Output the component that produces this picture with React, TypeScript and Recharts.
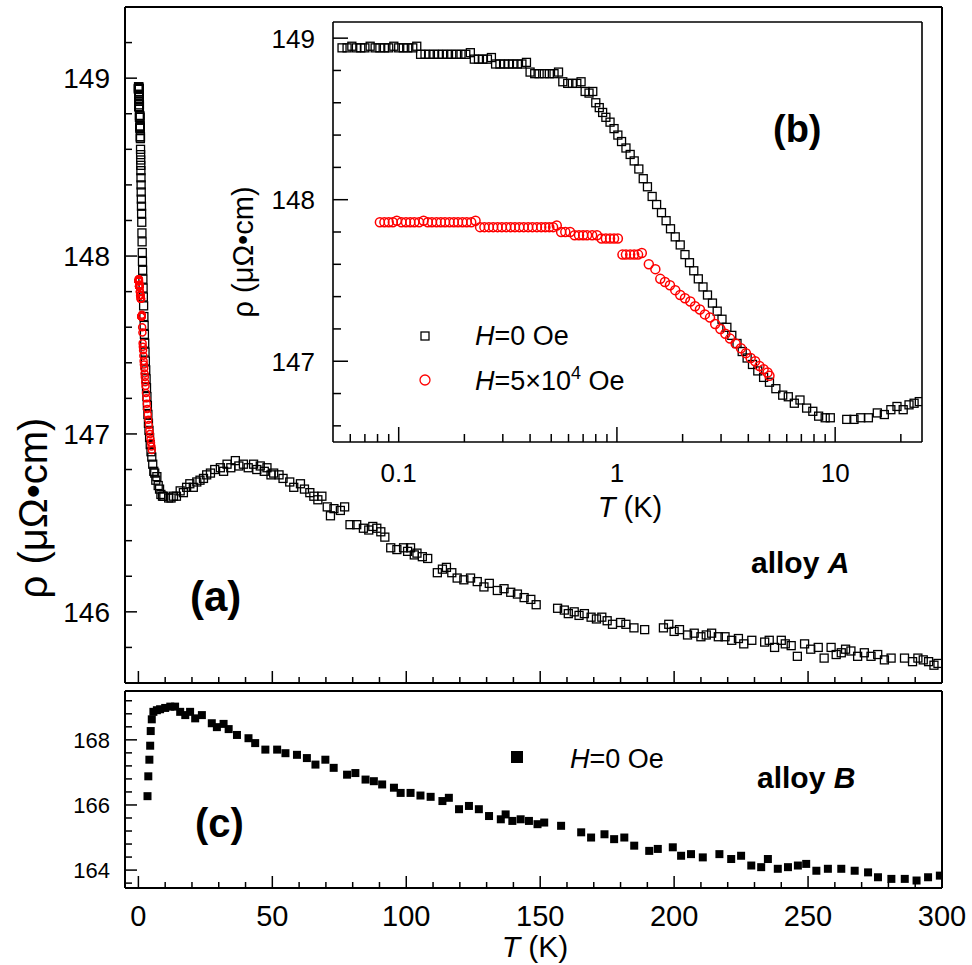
import { Scatter, ScatterChart, XAxis, YAxis } from "recharts"

const FONT = '"Liberation Sans", Arial, Helvetica, sans-serif'

// alloy A, H = 0 Oe, T (K) vs rho (µΩ·cm), part that is also in the inset
const h0LowT: [number, number][] = [
  [0.055, 148.94], [0.058, 148.94], [0.061, 148.95], [0.064, 148.94], [0.067, 148.94], [0.07, 148.94],
  [0.074, 148.95], [0.078, 148.94], [0.082, 148.94], [0.086, 148.94], [0.09, 148.94], [0.095, 148.95],
  [0.1, 148.94], [0.105, 148.94], [0.11, 148.94], [0.116, 148.94], [0.121, 148.95],
  [0.126, 148.9], [0.132, 148.9], [0.138, 148.9], [0.145, 148.9], [0.152, 148.9], [0.159, 148.9],
  [0.167, 148.9], [0.175, 148.9], [0.184, 148.9], [0.193, 148.9], [0.203, 148.9], [0.213, 148.91],
  [0.222, 148.87], [0.232, 148.87], [0.243, 148.87], [0.255, 148.87], [0.266, 148.88],
  [0.278, 148.84], [0.291, 148.84], [0.305, 148.84], [0.319, 148.84], [0.334, 148.84], [0.35, 148.84],
  [0.367, 148.84], [0.385, 148.85],
  [0.4, 148.79], [0.42, 148.78], [0.44, 148.78], [0.465, 148.78], [0.49, 148.78], [0.515, 148.78], [0.54, 148.79],
  [0.565, 148.73], [0.595, 148.72], [0.625, 148.72], [0.655, 148.72], [0.685, 148.73],
  [0.715, 148.67], [0.745, 148.66], [0.775, 148.67],
  [0.8, 148.6], [0.83, 148.57], [0.86, 148.54], [0.89, 148.51], [0.93, 148.48], [0.97, 148.44],
  [1.01, 148.4], [1.05, 148.36], [1.1, 148.32], [1.15, 148.28], [1.2, 148.24], [1.26, 148.19],
  [1.32, 148.13], [1.38, 148.08], [1.45, 148.02], [1.52, 147.97], [1.6, 147.92], [1.68, 147.87],
  [1.76, 147.82], [1.85, 147.77], [1.95, 147.72], [2.05, 147.66], [2.15, 147.61], [2.25, 147.56],
  [2.36, 147.51], [2.48, 147.46], [2.6, 147.41], [2.74, 147.36], [2.88, 147.31], [3.03, 147.26],
  [3.19, 147.21], [3.36, 147.16], [3.55, 147.11], [3.75, 147.06], [3.95, 147.02], [4.18, 146.98],
  [4.42, 146.94], [4.7, 146.9], [5.0, 146.87], [5.35, 146.83], [5.75, 146.79], [6.1, 146.78],
  [6.5, 146.74], [6.9, 146.76], [7.4, 146.71], [7.9, 146.69], [8.4, 146.66], [9.0, 146.65],
  [9.5, 146.65], [11.3, 146.64], [12.2, 146.64], [13.1, 146.65], [14.2, 146.65], [15.6, 146.68],
  [16.8, 146.67], [18.0, 146.7], [19.2, 146.72], [20.5, 146.7], [21.8, 146.73], [23.0, 146.74],
  [24.3, 146.75],
]

// alloy A, H = 0 Oe, above the inset range
const h0HighT: [number, number][] = [
  [25.5, 146.77], [26.9, 146.78], [28.5, 146.8], [30.6, 146.81], [31.8, 146.79], [33.1, 146.83],
  [34.5, 146.81], [36.2, 146.85], [37.5, 146.82], [39.2, 146.83], [41.0, 146.81], [43.0, 146.83],
  [44.2, 146.8], [45.5, 146.82], [47.0, 146.79], [48.0, 146.81], [49.5, 146.77], [50.5, 146.78],
  [52.5, 146.77], [54.0, 146.75], [56.5, 146.73], [58.0, 146.7], [60.5, 146.72], [62.0, 146.69],
  [64.0, 146.67], [65.5, 146.65], [67.0, 146.63], [68.5, 146.65], [70.5, 146.59], [71.7, 146.54],
  [73.0, 146.58], [75.4, 146.57], [77.0, 146.59], [79.0, 146.49], [81.5, 146.49], [84.0, 146.47],
  [86.0, 146.46], [87.5, 146.48], [89.0, 146.47], [90.5, 146.45], [92.0, 146.42], [94.2, 146.36],
  [96.5, 146.35], [99.0, 146.36], [100.5, 146.34], [101.6, 146.36], [103.0, 146.32], [104.0, 146.33],
  [106.0, 146.31], [108.0, 146.3], [111.6, 146.22], [113.5, 146.24], [115.0, 146.25], [117.0, 146.22],
  [119.0, 146.19], [121.5, 146.18], [124.0, 146.19], [126.5, 146.17], [129.0, 146.14], [131.0, 146.16],
  [134.0, 146.12], [136.5, 146.13], [139.0, 146.11], [141.5, 146.1], [144.0, 146.08], [146.5, 146.07],
  [148.5, 146.04], [156.5, 146.02], [159.0, 146.01], [160.5, 145.99], [162.7, 146.0], [164.5, 145.98],
  [166.5, 145.99], [169.0, 145.97], [171.0, 145.96], [173.0, 145.97], [175.0, 145.95], [177.0, 145.93],
  [180.0, 145.94], [182.0, 145.93], [185.0, 145.91], [189.0, 145.9], [196.0, 145.91], [198.0, 145.93],
  [200.0, 145.89], [202.0, 145.9], [205.0, 145.87], [207.5, 145.88], [210.0, 145.86], [212.0, 145.87],
  [214.0, 145.88], [216.5, 145.86], [219.0, 145.86], [221.5, 145.84], [224.0, 145.85], [226.0, 145.82],
  [229.0, 145.84], [233.8, 145.83], [235.5, 145.84], [237.5, 145.8], [240.0, 145.84], [241.5, 145.82],
  [243.7, 145.81], [246.0, 145.75], [248.7, 145.82], [251.0, 145.79], [253.8, 145.8], [256.0, 145.74],
  [258.6, 145.8], [260.5, 145.76], [262.4, 145.77], [264.0, 145.79], [266.0, 145.78], [268.5, 145.75],
  [271.0, 145.77], [273.5, 145.75], [276.0, 145.76], [278.5, 145.73], [281.0, 145.74], [286.0, 145.74],
  [289.0, 145.72], [291.0, 145.74], [293.0, 145.73], [295.0, 145.72], [297.0, 145.7], [298.5, 145.71],
]

// alloy A, H = 5x10^4 Oe
const h5: [number, number][] = [
  [0.082, 147.86], [0.086, 147.86], [0.09, 147.86], [0.094, 147.86], [0.098, 147.87], [0.103, 147.86],
  [0.108, 147.86], [0.113, 147.86], [0.118, 147.86], [0.124, 147.86], [0.13, 147.87], [0.136, 147.86],
  [0.142, 147.86], [0.149, 147.86], [0.156, 147.86], [0.163, 147.86], [0.171, 147.86], [0.179, 147.86],
  [0.187, 147.86], [0.196, 147.86], [0.205, 147.86], [0.215, 147.86], [0.225, 147.87],
  [0.236, 147.83], [0.247, 147.83], [0.259, 147.83], [0.271, 147.83], [0.284, 147.83], [0.297, 147.83],
  [0.311, 147.83], [0.326, 147.83], [0.341, 147.83], [0.357, 147.83], [0.374, 147.83], [0.392, 147.83],
  [0.41, 147.83], [0.43, 147.83], [0.45, 147.83], [0.47, 147.83], [0.49, 147.83], [0.51, 147.83], [0.53, 147.84],
  [0.555, 147.8], [0.58, 147.8], [0.61, 147.8], [0.64, 147.78], [0.67, 147.78], [0.7, 147.78],
  [0.73, 147.78], [0.77, 147.78], [0.81, 147.78],
  [0.85, 147.76], [0.89, 147.76], [0.93, 147.76], [0.97, 147.76], [1.01, 147.76],
  [1.06, 147.66], [1.1, 147.66], [1.15, 147.66], [1.2, 147.66], [1.25, 147.66], [1.3, 147.67],
  [1.4, 147.6], [1.5, 147.57], [1.58, 147.51], [1.66, 147.49], [1.75, 147.47], [1.85, 147.44],
  [1.95, 147.41], [2.05, 147.39], [2.17, 147.37], [2.28, 147.34], [2.4, 147.32], [2.53, 147.29],
  [2.67, 147.27], [2.82, 147.23], [2.98, 147.2], [3.14, 147.17], [3.3, 147.14], [3.5, 147.11],
  [3.7, 147.08], [3.9, 147.05], [4.1, 147.02], [4.3, 147.0], [4.5, 146.97], [4.7, 146.95],
  [4.9, 146.93], [5.0, 146.91],
]

// alloy B, H = 0 Oe
const alloyB: [number, number][] = [
  [3.4, 166.27], [3.7, 166.88], [4.1, 167.39], [4.4, 167.82], [4.6, 168.27], [5.0, 168.63],
  [5.6, 168.86], [6.9, 168.91], [8.1, 168.94], [10.0, 168.98], [11.9, 169.02], [13.7, 169.02],
  [15.6, 168.86], [17.5, 168.76], [19.3, 168.86], [21.2, 168.66], [23.7, 168.76], [27.4, 168.51],
  [29.3, 168.39], [31.8, 168.49], [33.7, 168.33], [36.8, 168.15], [41.1, 168.05], [43.6, 167.9],
  [47.4, 167.7], [51.8, 167.7], [54.9, 167.59], [59.2, 167.54], [62.9, 167.44], [66.1, 167.24],
  [69.8, 167.39], [72.9, 167.14], [77.9, 166.93], [81.0, 166.98], [84.8, 166.78], [87.9, 166.73],
  [91.0, 166.63], [95.4, 166.53], [97.9, 166.37], [101.6, 166.37], [105.3, 166.29], [109.1, 166.25],
  [113.5, 166.12], [115.9, 166.22], [119.7, 165.87], [123.4, 165.97], [127.1, 165.87], [130.9, 165.66],
  [135.3, 165.56], [137.1, 165.71], [139.6, 165.51], [142.7, 165.56], [145.8, 165.51], [149.0, 165.41],
  [151.5, 165.46], [157.8, 165.36], [165.3, 165.16], [169.0, 165.0], [174.0, 165.1], [177.6, 164.95],
  [181.4, 165.0], [185.1, 164.75], [190.7, 164.59], [193.9, 164.65], [199.5, 164.7], [202.6, 164.44],
  [206.3, 164.49], [210.7, 164.39], [216.9, 164.49], [221.3, 164.34], [225.0, 164.44], [228.8, 164.14],
  [232.5, 164.09], [235.0, 164.34], [238.7, 164.04], [242.5, 164.09], [246.2, 164.14], [249.3, 164.19],
  [253.1, 163.98], [257.4, 164.04], [262.4, 164.04], [267.4, 163.98], [272.4, 163.93], [276.1, 163.78],
  [281.1, 163.73], [286.1, 163.73], [290.5, 163.68], [294.8, 163.78], [299.2, 163.83],
]

// ticks
const tTicksLin = [
  0, 10, 20, 30, 40, 50, 60, 70, 80, 90, 100, 110, 120, 130, 140, 150, 160, 170, 180, 190, 200,
  210, 220, 230, 240, 250, 260, 270, 280, 290, 300,
]
const tLabelsLin = ["0", "50", "100", "150", "200", "250", "300"]
const rhoTicksA = [
  145.8, 146, 146.2, 146.4, 146.6, 146.8, 147, 147.2, 147.4, 147.6, 147.8, 148, 148.2, 148.4,
  148.6, 148.8, 149, 149.2,
]
const rhoLabelsA = ["146", "147", "148", "149"]
const tTicksLog = [
  0.06, 0.07, 0.08, 0.09, 0.1, 0.2, 0.3, 0.4, 0.5, 0.6, 0.7, 0.8, 0.9, 1, 2, 3, 4, 5, 6, 7, 8, 9, 10, 20,
]
const tLabelsLog = ["0.1", "1", "10"]
const rhoTicksB = [146.6, 146.8, 147, 147.2, 147.4, 147.6, 147.8, 148, 148.2, 148.4, 148.6, 148.8, 149]
const rhoLabelsB = ["147", "148", "149"]
const rhoTicksC = [
  163.6, 164, 164.4, 164.8, 165.2, 165.6, 166, 166.4, 166.8, 167.2, 167.6, 168, 168.4, 168.8, 169.2,
]
const rhoLabelsC = ["164", "166", "168"]

const toPoints = (rows: [number, number][]) => rows.map(([t, rho]) => ({ t, rho }))
const aH0 = toPoints([...h0LowT, ...h0HighT])
const insetH0 = toPoints(h0LowT)
const aH5 = toPoints(h5)
const bData = toPoints(alloyB)

interface TickOpts {
  side: "bottom" | "top" | "left"
  labels: string[]
  major: number
  minor: number
  show?: boolean
  fontSize?: number
  gap?: number
  width?: number
}

// inward tick marks; labels only on the major ticks
function makeTick(o: TickOpts) {
  return function AxisTick(props: any) {
    const { x = 0, y = 0, payload } = props
    const text = String(+Number(payload?.value).toFixed(3))
    const isMajor = o.labels.includes(text)
    const len = isMajor ? o.major : o.minor
    const sw = o.width ?? 1.5
    if (o.side === "left") {
      return (
        <g>
          <line x1={x} x2={x + len} y1={y} y2={y} stroke="#000" strokeWidth={sw} />
          {o.show && isMajor ? (
            <text x={x - (o.gap ?? 0)} y={y} dy="0.36em" textAnchor="end" fontSize={o.fontSize} fontFamily={FONT} fill="#000">
              {text}
            </text>
          ) : null}
        </g>
      )
    }
    if (o.side === "top") {
      return <line x1={x} x2={x} y1={y} y2={y + len} stroke="#000" strokeWidth={sw} />
    }
    return (
      <g>
        <line x1={x} x2={x} y1={y} y2={y - len} stroke="#000" strokeWidth={sw} />
        {o.show && isMajor ? (
          <text x={x} y={y + (o.gap ?? 0)} textAnchor="middle" fontSize={o.fontSize} fontFamily={FONT} fill="#000">
            {text}
          </text>
        ) : null}
      </g>
    )
  }
}

const openSquare = (size: number) => (p: any) => (
  <rect x={p.cx - size / 2} y={p.cy - size / 2} width={size} height={size} fill="none" stroke="#000" strokeWidth={1.3} />
)
const filledSquare = (size: number) => (p: any) => (
  <rect x={p.cx - size / 2} y={p.cy - size / 2} width={size} height={size} fill="#000" />
)
const openCircle = (r: number) => (p: any) => (
  <circle cx={p.cx} cy={p.cy} r={r} fill="none" stroke="#ff0000" strokeWidth={1.5} />
)

const frame = { stroke: "#000", strokeWidth: 2 }
const thinFrame = { stroke: "#000", strokeWidth: 1.6 }

export default function App() {
  return (
    <div style={{ position: "absolute", left: 0, top: 0, width: 972, height: 965, background: "#fff", fontFamily: FONT }}>
      {/* (a) alloy A, linear T */}
      <div style={{ position: "absolute", left: 0, top: 0 }}>
        <ScatterChart width={972} height={690} margin={{ top: 6, right: 0, bottom: 0, left: 0 }}>
          <XAxis
            dataKey="t"
            type="number"
            domain={[-5, 300]}
            ticks={tTicksLin}
            interval={0}
            allowDataOverflow
            height={7}
            tickSize={0}
            tickMargin={0}
            tickLine={false}
            axisLine={frame}
            tick={makeTick({ side: "bottom", labels: tLabelsLin, major: 12, minor: 6 })}
          />
          <XAxis xAxisId="top" orientation="top" type="number" domain={[-5, 300]} ticks={[0, 300]} height={1} tick={false} tickLine={false} axisLine={frame} />
          <YAxis
            dataKey="rho"
            type="number"
            domain={[145.6, 149.4]}
            ticks={rhoTicksA}
            interval={0}
            allowDataOverflow
            width={125}
            tickSize={0}
            tickMargin={0}
            tickLine={false}
            axisLine={frame}
            tick={makeTick({ side: "left", labels: rhoLabelsA, major: 12, minor: 7, show: true, fontSize: 28, gap: 15 })}
          />
          <YAxis yAxisId="right" orientation="right" type="number" domain={[0, 1]} ticks={[0, 1]} width={30} tick={false} tickLine={false} axisLine={frame} />
          <Scatter data={aH0} shape={openSquare(8)} isAnimationActive={false} />
          <Scatter data={aH5} shape={openCircle(3.5)} isAnimationActive={false} />
        </ScatterChart>
      </div>

      {/* (c) alloy B */}
      <div style={{ position: "absolute", left: 0, top: 684 }}>
        <ScatterChart width={972} height={281} margin={{ top: 6, right: 0, bottom: 0, left: 0 }}>
          <XAxis
            dataKey="t"
            type="number"
            domain={[-5, 300]}
            ticks={tTicksLin}
            interval={0}
            allowDataOverflow
            height={77}
            tickSize={0}
            tickMargin={0}
            tickLine={false}
            axisLine={frame}
            tick={makeTick({ side: "bottom", labels: tLabelsLin, major: 12, minor: 6, show: true, fontSize: 29, gap: 38 })}
          />
          <XAxis
            xAxisId="top"
            orientation="top"
            type="number"
            domain={[-5, 300]}
            ticks={tTicksLin}
            interval={0}
            allowDataOverflow
            height={1}
            tickSize={0}
            tickMargin={0}
            tickLine={false}
            axisLine={frame}
            tick={makeTick({ side: "top", labels: tLabelsLin, major: 12, minor: 6 })}
          />
          <YAxis
            dataKey="rho"
            type="number"
            domain={[163.45, 169.5]}
            ticks={rhoTicksC}
            interval={0}
            allowDataOverflow
            width={125}
            tickSize={0}
            tickMargin={0}
            tickLine={false}
            axisLine={frame}
            tick={makeTick({ side: "left", labels: rhoLabelsC, major: 12, minor: 7, show: true, fontSize: 22, gap: 15 })}
          />
          <YAxis yAxisId="right" orientation="right" type="number" domain={[0, 1]} ticks={[0, 1]} width={30} tick={false} tickLine={false} axisLine={frame} />
          <Scatter data={bData} shape={filledSquare(8)} isAnimationActive={false} />
        </ScatterChart>
      </div>

      {/* (b) inset, log T */}
      <div style={{ position: "absolute", left: 200, top: 0 }}>
        <ScatterChart width={723} height={542} margin={{ top: 21, right: 0, bottom: 0, left: 0 }}>
          <XAxis
            dataKey="t"
            type="number"
            scale="log"
            domain={[0.05, 25]}
            ticks={tTicksLog}
            interval={0}
            allowDataOverflow
            height={100}
            tickSize={0}
            tickMargin={0}
            tickLine={false}
            axisLine={thinFrame}
            tick={makeTick({ side: "bottom", labels: tLabelsLog, major: 15, minor: 8, show: true, fontSize: 26, gap: 40 })}
          />
          <XAxis xAxisId="top" orientation="top" type="number" domain={[0, 1]} ticks={[0, 1]} height={1} tick={false} tickLine={false} axisLine={thinFrame} />
          <YAxis
            dataKey="rho"
            type="number"
            domain={[146.5, 149.1]}
            ticks={rhoTicksB}
            interval={0}
            allowDataOverflow
            width={133}
            tickSize={0}
            tickMargin={0}
            tickLine={false}
            axisLine={thinFrame}
            tick={makeTick({ side: "left", labels: rhoLabelsB, major: 15, minor: 8, show: true, fontSize: 26, gap: 18 })}
          />
          <YAxis yAxisId="right" orientation="right" type="number" domain={[0, 1]} ticks={[0, 1]} width={1} tick={false} tickLine={false} axisLine={thinFrame} />
          <Scatter data={insetH0} shape={openSquare(8)} isAnimationActive={false} />
          <Scatter data={aH5} shape={openCircle(4.5)} isAnimationActive={false} />
        </ScatterChart>
      </div>

      {/* titles, panel letters and legends */}
      <svg width={972} height={965} style={{ position: "absolute", left: 0, top: 0, pointerEvents: "none" }} fontFamily={FONT} fill="#000">
        <text transform="translate(47,508) rotate(-90)" textAnchor="middle" fontSize={40}>ρ (μΩ•cm)</text>
        <text transform="translate(253,252) rotate(-90)" textAnchor="middle" fontSize={29}>ρ (μΩ•cm)</text>
        <text x={535} y={957} textAnchor="middle" fontSize={30}>
          <tspan fontStyle="italic">T</tspan> (K)
        </text>
        <text x={630} y={517} textAnchor="middle" fontSize={29}>
          <tspan fontStyle="italic">T</tspan> (K)
        </text>
        <text x={190} y={611} fontSize={42} fontWeight="bold">(a)</text>
        <text x={773} y={142} fontSize={38} fontWeight="bold">(b)</text>
        <text x={195} y={837} fontSize={40} fontWeight="bold">(c)</text>
        <text x={751} y={573} fontSize={30} fontWeight="bold">
          alloy <tspan fontStyle="italic">A</tspan>
        </text>
        <text x={757} y={788} fontSize={30} fontWeight="bold">
          alloy <tspan fontStyle="italic">B</tspan>
        </text>

        <rect x={421} y={332} width={8} height={8} fill="none" stroke="#000" strokeWidth={1.3} />
        <text x={475} y={345} fontSize={27}>
          <tspan fontStyle="italic">H</tspan>=0 Oe
        </text>
        <circle cx={425} cy={380} r={5} fill="none" stroke="#ff0000" strokeWidth={1.3} />
        <text x={475} y={390} fontSize={27}>
          <tspan fontStyle="italic">H</tspan>=5×10<tspan fontSize={18} dy={-11}>4</tspan>
          <tspan dy={11}> Oe</tspan>
        </text>

        <rect x={511} y={751} width={12} height={12} fill="#000" />
        <text x={570} y={768} fontSize={27}>
          <tspan fontStyle="italic">H</tspan>=0 Oe
        </text>
      </svg>
    </div>
  )
}
